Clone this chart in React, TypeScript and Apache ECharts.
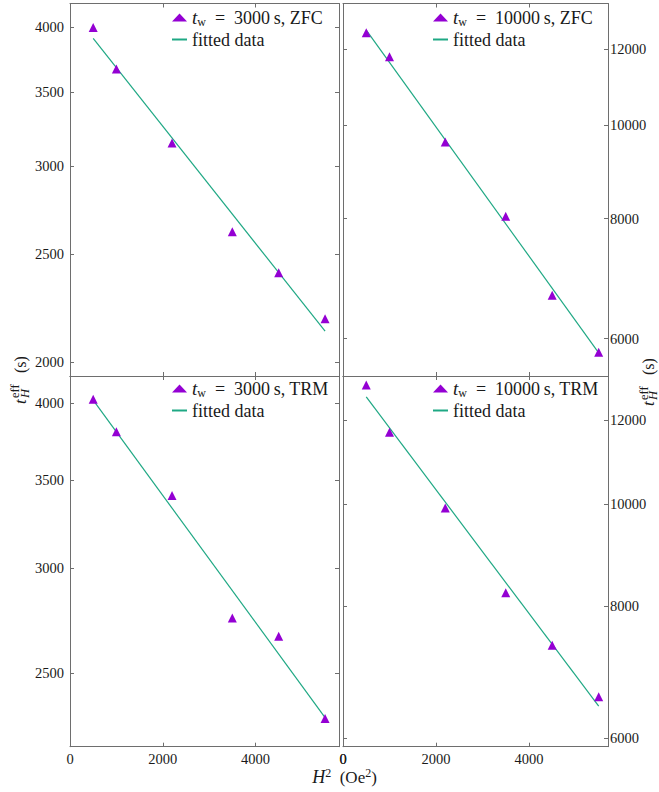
import React, { useEffect, useRef } from 'react';
import * as echarts from 'echarts';

// ---- data ----
const xValues = [500, 1000, 2200, 3500, 4500, 5500];
const zfc3000 = [4000, 3670, 3148, 2619, 2406, 2188];
const zfc10000 = [12486, 11790, 9609, 8044, 6659, 5807];
const trm3000 = [4028, 3805, 3405, 2751, 2665, 2309];
const trm10000 = [12957, 11691, 9912, 8240, 7349, 6568];

const fitX = [500, 5500];
const fitZfc3000 = [3910, 2132];
const fitZfc10000 = [12566, 5800];
const fitTrm3000 = [4021, 2312];
const fitTrm10000 = [12623, 6436];

const ticksTL = [2000, 2500, 3000, 3500, 4000];
const ticksTR = [6000, 8000, 10000, 12000];
const ticksBL = [2500, 3000, 3500, 4000];
const ticksBR = [6000, 8000, 10000, 12000];
const xTicks = [0, 2000, 4000];

const FONT = '"Liberation Serif", "Times New Roman", serif';
const AXIS = '#6e6e6e';
const TEXT = '#1a1a1a';
const PURPLE = '#9400d3';
const TEAL = '#1fa884';

type Panel = {
  grid: { left: number; top: number; width: number; height: number };
  xMax: number;
  yMin: number;
  yMax: number;
  yTicks: number[];
  side: 'left' | 'right';
  showX: boolean;
  values: number[];
  fit: number[];
  name: string;
  tw: string;
  kind: string;
  legend: { left: number; top: number };
};

const panels: Panel[] = [
  {
    grid: { left: 70, top: 3.5, width: 269, height: 372.5 },
    xMax: 5800, yMin: 1943, yMax: 4203, yTicks: ticksTL, side: 'left', showX: false,
    values: zfc3000, fit: fitZfc3000, name: 'tw3000ZFC', tw: '3000', kind: 'ZFC',
    legend: { left: 171, top: 7.5 },
  },
  {
    grid: { left: 343, top: 3.5, width: 265, height: 372.5 },
    xMax: 5700, yMin: 5487, yMax: 13394, yTicks: ticksTR, side: 'right', showX: false,
    values: zfc10000, fit: fitZfc10000, name: 'tw10000ZFC', tw: '10000', kind: 'ZFC',
    legend: { left: 432, top: 7.5 },
  },
  {
    grid: { left: 70, top: 376, width: 269, height: 370.7 },
    xMax: 5800, yMin: 2198, yMax: 4194, yTicks: ticksBL, side: 'left', showX: true,
    values: trm3000, fit: fitTrm3000, name: 'tw3000TRM', tw: '3000', kind: 'TRM',
    legend: { left: 171, top: 378.5 },
  },
  {
    grid: { left: 343, top: 376, width: 265, height: 370.7 },
    xMax: 5700, yMin: 5891, yMax: 13213, yTicks: ticksBR, side: 'right', showX: true,
    values: trm10000, fit: fitTrm10000, name: 'tw10000TRM', tw: '10000', kind: 'TRM',
    legend: { left: 432, top: 378.5 },
  },
];

const tickLabelStyle = {
  color: TEXT,
  fontFamily: FONT,
  fontSize: 14.5,
};
const X_LABEL_MARGIN = 5;

function buildGraphic(extra: any[] = []) {
  const yLabel = (cx: number, cy: number) => ({
    type: 'group',
    x: cx,
    y: cy,
    rotation: Math.PI / 2,
    children: [
      { type: 'text', x: -24, y: 0, style: { text: 't', fontFamily: FONT, fontSize: 17, fontStyle: 'italic', fill: TEXT, align: 'left', verticalAlign: 'middle' } },
      { type: 'text', x: -18, y: -5, style: { text: 'eff', fontFamily: FONT, fontSize: 12.5, fill: TEXT, align: 'left', verticalAlign: 'middle' } },
      { type: 'text', x: -18, y: 4.5, style: { text: 'H', fontFamily: FONT, fontSize: 12.5, fontStyle: 'italic', fill: TEXT, align: 'left', verticalAlign: 'middle' } },
      { type: 'text', x: 7, y: 0, style: { text: '(s)', fontFamily: FONT, fontSize: 16, fill: TEXT, align: 'left', verticalAlign: 'middle' } },
    ],
  });

  return [
    yLabel(20, 380),
    yLabel(648.5, 382),
    {
      type: 'text',
      x: 344.5,
      y: 777,
      style: {
        text: '{i|H}{sup|2}{n|\u2002(Oe}{sup|2}{n|)}',
        fontFamily: FONT,
        fontSize: 17,
        lineHeight: 20,
        fill: TEXT,
        align: 'center',
        verticalAlign: 'middle',
        rich: {
          n: { fontFamily: FONT, fontSize: 17, lineHeight: 20, fill: TEXT },
          i: { fontFamily: FONT, fontSize: 18, fontStyle: 'italic', lineHeight: 20, fill: TEXT },
          sup: { fontFamily: FONT, fontSize: 12, lineHeight: 11, verticalAlign: 'top', fill: TEXT },
        },
      },
    },
    ...extra,
  ];
}

function buildOption() {
  const grid: any[] = [];
  const xAxis: any[] = [];
  const yAxis: any[] = [];
  const series: any[] = [];
  const legend: any[] = [];

  panels.forEach((p, i) => {
    grid.push({ ...p.grid, containLabel: false, show: false });

    const commonLine = { show: true, onZero: false, lineStyle: { color: AXIS, width: 1 } };
    const xBase = {
      type: 'value',
      gridIndex: i,
      min: 0,
      max: p.xMax,
      axisLine: commonLine,
      splitLine: { show: false },
      axisTick: { show: true, inside: true, length: 4, lineStyle: { color: AXIS }, customValues: xTicks },
    };
    xAxis.push({
      ...xBase,
      position: 'bottom',
      axisLabel: p.showX
        ? {
            show: true,
            customValues: xTicks,
            showMinLabel: true,
            hideOverlap: false,
            margin: X_LABEL_MARGIN,
            formatter: (v: number) => String(Math.round(v)),
            ...tickLabelStyle,
          }
        : { show: false },
    });
    xAxis.push({ ...xBase, position: 'top', axisLabel: { show: false } });

    const yBase = {
      type: 'log',
      logBase: 10,
      gridIndex: i,
      min: p.yMin,
      max: p.yMax,
      axisLine: commonLine,
      splitLine: { show: false },
      minorTick: { show: false },
      axisTick: { show: true, inside: true, length: 4, lineStyle: { color: AXIS }, customValues: p.yTicks },
    };
    yAxis.push({
      ...yBase,
      position: p.side,
      axisLabel: {
        show: true,
        customValues: p.yTicks,
        margin: p.side === 'left' ? 6 : 2,
        formatter: (v: number) => String(Math.round(v)),
        ...tickLabelStyle,
      },
    });
    yAxis.push({
      ...yBase,
      position: p.side === 'left' ? 'right' : 'left',
      axisLabel: { show: false },
    });

    series.push({
      type: 'line',
      name: 'fitted data',
      xAxisIndex: 2 * i,
      yAxisIndex: 2 * i,
      data: fitX.map((x, j) => [x, p.fit[j]]),
      symbol: 'none',
      lineStyle: { color: TEAL, width: 1.2 },
      itemStyle: { color: TEAL },
      z: 2,
    });
    series.push({
      type: 'scatter',
      name: p.name,
      xAxisIndex: 2 * i,
      yAxisIndex: 2 * i,
      data: xValues.map((x, j) => [x, p.values[j]]),
      symbol: 'triangle',
      symbolSize: 9,
      symbolKeepAspect: true,
      itemStyle: { color: PURPLE, opacity: 1 },
      z: 3,
    });

    legend.push({
      orient: 'vertical',
      left: p.legend.left,
      top: p.legend.top,
      itemWidth: 15,
      itemHeight: 8,
      itemGap: 2,
      padding: 0,
      selectedMode: false,
      data: [
        { name: p.name },
        { name: 'fitted data', itemStyle: { opacity: 0 } },
      ],
      formatter: (name: string) =>
        name === 'fitted data'
          ? '{n|fitted data}'
          : `{i|t}{sub|w}{n|\u2002=\u2002${p.tw}\u2009s, ${p.kind}}`,
      textStyle: {
        color: TEXT,
        fontFamily: FONT,
        fontSize: 18,
        lineHeight: 20,
        rich: {
          n: { fontFamily: FONT, fontSize: 18, color: TEXT, lineHeight: 20 },
          i: { fontFamily: FONT, fontSize: 19, fontStyle: 'italic', color: TEXT, lineHeight: 20 },
          sub: { fontFamily: FONT, fontSize: 12, color: TEXT, lineHeight: 11, verticalAlign: 'bottom' },
        },
      },
    });
  });

  return {
    animation: false,
    backgroundColor: '#ffffff',
    grid,
    xAxis,
    yAxis,
    series,
    legend,
    graphic: buildGraphic(),
  };
}

export default function App() {
  const ref = useRef<HTMLDivElement | null>(null);
  useEffect(() => {
    if (!ref.current) return;
    const chart = echarts.init(ref.current, undefined, { renderer: 'svg' });
    chart.setOption(buildOption() as any);

    // ECharts suppresses the first tick label ("0") of the lower-right panel's
    // x axis; place it at the position given by that axis' own scale.
    const brIndex = 3;
    const p = panels[brIndex];
    const px = chart.convertToPixel({ xAxisIndex: 2 * brIndex } as any, xTicks[0]) as unknown as number;
    const py = p.grid.top + p.grid.height + X_LABEL_MARGIN + tickLabelStyle.fontSize / 2;
    if (typeof px === 'number' && isFinite(px)) {
      chart.setOption({
        graphic: buildGraphic([
          {
            type: 'text',
            id: 'brZeroLabel',
            x: px,
            y: py,
            z: 10,
            style: {
              text: String(xTicks[0]),
              fontFamily: FONT,
              fontSize: tickLabelStyle.fontSize,
              fill: TEXT,
              align: 'center',
              verticalAlign: 'middle',
            },
          },
        ]),
      } as any);
    }
    return () => chart.dispose();
  }, []);
  return (
    <div
      ref={ref}
      style={{ position: 'fixed', left: 0, top: 0, width: 659, height: 792, background: '#fff' }}
    />
  );
}
